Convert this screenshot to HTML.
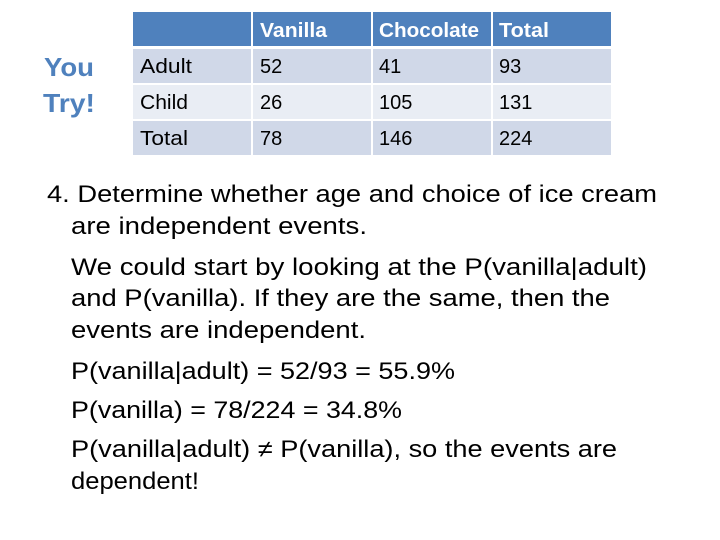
<!DOCTYPE html>
<html><head><meta charset="utf-8"><style>
html,body{margin:0;padding:0;background:#fff;width:720px;height:540px;overflow:hidden}
svg{display:block;font-family:"Liberation Sans",sans-serif}
</style></head><body>
<svg width="720" height="540">
<g fill="#4F81BD" font-weight="bold" font-size="26" text-anchor="middle">
<text x="69" y="76" textLength="50" lengthAdjust="spacingAndGlyphs">You</text>
<text x="69" y="112" textLength="52" lengthAdjust="spacingAndGlyphs">Try!</text>
</g>
<g font-size="20">
<rect x="133" y="12" width="118" height="34" fill="#4F81BD"/>
<rect x="253" y="12" width="118" height="34" fill="#4F81BD"/>
<rect x="373" y="12" width="118" height="34" fill="#4F81BD"/>
<rect x="493" y="12" width="118" height="34" fill="#4F81BD"/>
<rect x="133" y="49" width="118" height="34" fill="#D0D8E8"/>
<rect x="253" y="49" width="118" height="34" fill="#D0D8E8"/>
<rect x="373" y="49" width="118" height="34" fill="#D0D8E8"/>
<rect x="493" y="49" width="118" height="34" fill="#D0D8E8"/>
<rect x="133" y="85" width="118" height="34" fill="#E9EDF4"/>
<rect x="253" y="85" width="118" height="34" fill="#E9EDF4"/>
<rect x="373" y="85" width="118" height="34" fill="#E9EDF4"/>
<rect x="493" y="85" width="118" height="34" fill="#E9EDF4"/>
<rect x="133" y="121" width="118" height="34" fill="#D0D8E8"/>
<rect x="253" y="121" width="118" height="34" fill="#D0D8E8"/>
<rect x="373" y="121" width="118" height="34" fill="#D0D8E8"/>
<rect x="493" y="121" width="118" height="34" fill="#D0D8E8"/>
<g fill="#fff" font-weight="bold">
<text x="260" y="37" textLength="67" lengthAdjust="spacingAndGlyphs">Vanilla</text>
<text x="379" y="37" textLength="100" lengthAdjust="spacingAndGlyphs">Chocolate</text>
<text x="499" y="37" textLength="50" lengthAdjust="spacingAndGlyphs">Total</text>
</g>
<g fill="#000">
<text x="140" y="73" textLength="52" lengthAdjust="spacingAndGlyphs">Adult</text>
<text x="260" y="73">52</text><text x="379" y="73">41</text><text x="499" y="73">93</text>
<text x="140" y="109" textLength="48" lengthAdjust="spacingAndGlyphs">Child</text>
<text x="260" y="109">26</text><text x="379" y="109">105</text><text x="499" y="109">131</text>
<text x="140" y="145" textLength="48" lengthAdjust="spacingAndGlyphs">Total</text>
<text x="260" y="145">78</text><text x="379" y="145">146</text><text x="499" y="145">224</text>
</g>
</g>
<g font-size="24" fill="#000" lengthAdjust="spacingAndGlyphs">
<text x="47" y="202" textLength="610" lengthAdjust="spacingAndGlyphs">4. Determine whether age and choice of ice cream</text>
<text x="71" y="234" textLength="296" lengthAdjust="spacingAndGlyphs">are independent events.</text>
<text x="71" y="275" textLength="576" lengthAdjust="spacingAndGlyphs">We could start by looking at the P(vanilla|adult)</text>
<text x="71" y="306" textLength="539" lengthAdjust="spacingAndGlyphs">and P(vanilla). If they are the same, then the</text>
<text x="71" y="338" textLength="295" lengthAdjust="spacingAndGlyphs">events are independent.</text>
<text x="71" y="379" textLength="384" lengthAdjust="spacingAndGlyphs">P(vanilla|adult) = 52/93 = 55.9%</text>
<text x="71" y="418" textLength="331" lengthAdjust="spacingAndGlyphs">P(vanilla) = 78/224 = 34.8%</text>
<text x="71" y="457" textLength="546" lengthAdjust="spacingAndGlyphs">P(vanilla|adult) ≠ P(vanilla), so the events are</text>
<text x="71" y="489" textLength="128" lengthAdjust="spacingAndGlyphs">dependent!</text>
</g>
</svg>
</body></html>
